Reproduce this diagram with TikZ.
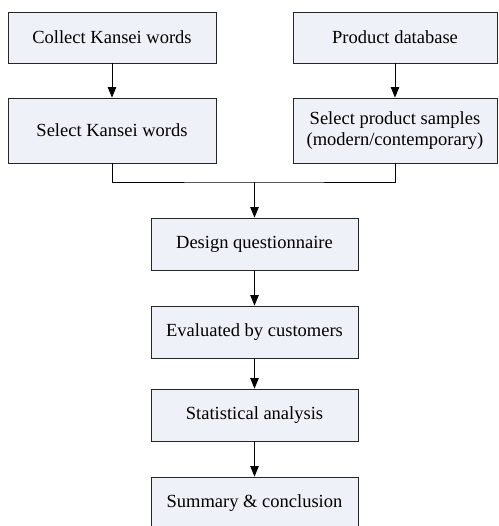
\documentclass[tikz,border=0pt]{standalone}
\usepackage{fontspec}
\setmainfont{Liberation Serif}
\usetikzlibrary{arrows.meta}
\definecolor{boxfill}{RGB}{238,241,247}
\begin{document}
\begin{tikzpicture}[x=1pt,y=1pt,
  box/.style={draw=black!85, line width=0.9pt, fill=boxfill, inner sep=0pt, align=center, font=\fontsize{18.5}{21}\selectfont},
  conn/.style={draw=black, line width=0.9pt},
  arr/.style={conn, -{Triangle[length=10.5pt,width=8.5pt]}}]
\useasboundingbox (0,0) rectangle (498,-526);
\node[box, minimum width=208, minimum height=51] (c1) at (112,-37.5) {Collect Kansei words};
\node[box, minimum width=208, minimum height=65] (c2) at (112,-130.5) {Select Kansei words};
\node[box, minimum width=204, minimum height=51] (p1) at (395,-37.5) {Product database};
\node[box, minimum width=204, minimum height=65] (p2) at (395,-130.5) {Select product samples\\(modern/contemporary)};
\node[box, minimum width=207, minimum height=52] (d) at (254.5,-244) {Design questionnaire};
\node[box, minimum width=207, minimum height=52] (e) at (254.5,-332) {Evaluated by customers};
\node[box, minimum width=207, minimum height=52] (s) at (254.5,-415) {Statistical analysis};
\node[box, minimum width=207, minimum height=52] (m) at (254.5,-503) {Summary \& conclusion};
\coordinate (j) at (254.5,-182);
\draw[arr] (c1) -- (c2);
\draw[arr] (p1) -- (p2);
\draw[conn] (c2.south) |- (j) -| (p2.south);
\draw[arr] (j) -- (d);
\draw[arr] (d) -- (e);
\draw[arr] (e) -- (s);
\draw[arr] (s) -- (m);
\end{tikzpicture}
\end{document}
